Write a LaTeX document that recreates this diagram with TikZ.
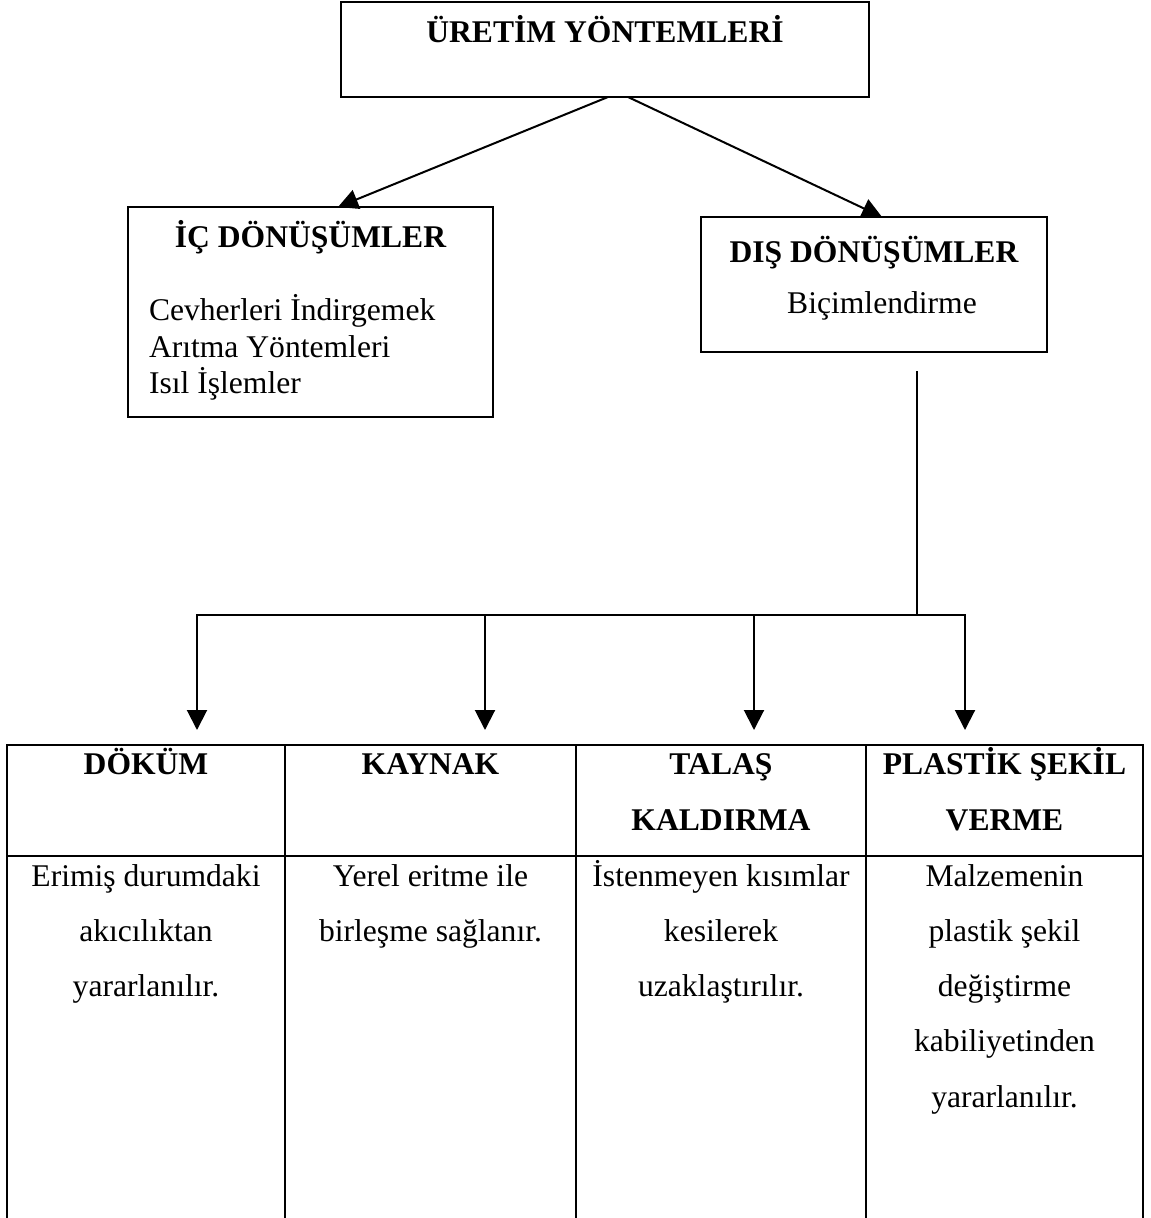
\documentclass[tikz,border=0pt]{standalone}
\usepackage{fontspec}
\setmainfont{Liberation Serif}
\usetikzlibrary{arrows.meta,calc}
\begin{document}
\begin{tikzpicture}[x=1pt,y=-1pt,
  every node/.style={font=\fontsize{31.6}{38}\selectfont, inner sep=0pt, outer sep=0pt},
  frame/.style={draw, rectangle, line width=2pt},
  heading/.style={font=\fontsize{31.6}{38}\selectfont\bfseries, anchor=base},
  textline/.style={anchor=base},
  link/.style={line width=2pt},
  arr/.style={line width=2pt, -{Triangle[length=20pt,width=20pt]}},
]
\useasboundingbox (0,0) rectangle (1151,1218);

% top box
\node[frame, minimum width=528pt, minimum height=95pt] (top) at (605,49.5) {};
\node[heading] (topT) at (605,42) {ÜRETİM YÖNTEMLERİ};

% inner transformations
\node[frame, minimum width=365pt, minimum height=210pt] (ic) at (310.5,312) {};
\node[heading] (icT) at (310.5,247) {İÇ DÖNÜŞÜMLER};
\node[textline, anchor=base west] (ic1) at (149,320) {Cevherleri İndirgemek};
\node[textline, anchor=base west] (ic2) at (149,357) {Arıtma Yöntemleri};
\node[textline, anchor=base west] (ic3) at (149,393) {Isıl İşlemler};

% outer transformations
\node[frame, minimum width=346pt, minimum height=135pt] (dis) at (874,284.5) {};
\node[heading] (disT) at (874,262) {DIŞ DÖNÜŞÜMLER};
\node[textline] (disB) at (882,313) {Biçimlendirme};

\draw[arr] ($(top.south)+(3,0)$) -- ($(ic.north)+(27.5,0)$);
\draw[arr] ($(top.south)+(23,0)$) -- ($(dis.north)+(8,0)$);

% table header cells
\node[frame, minimum width=278pt, minimum height=111pt] (h1) at (146,800.5) {};
\node[frame, minimum width=291pt, minimum height=111pt] (h2) at (430.5,800.5) {};
\node[frame, minimum width=290pt, minimum height=111pt] (h3) at (721,800.5) {};
\node[frame, minimum width=277pt, minimum height=111pt] (h4) at (1004.5,800.5) {};

\node[heading] (h1a) at (146,774) {DÖKÜM};
\node[heading] (h2a) at (430.5,774) {KAYNAK};
\node[heading] (h3a) at (721,774) {TALAŞ};
\node[heading] (h3b) at (721,830) {KALDIRMA};
\node[heading] (h4a) at (1004.5,774) {PLASTİK ŞEKİL};
\node[heading] (h4b) at (1004.5,830) {VERME};

% table body columns, open at the bottom
\coordinate (bottom) at (0,1218);
\draw[link] (h1.south west) -- (h1.south west |- bottom);
\draw[link] (h2.south west) -- (h2.south west |- bottom);
\draw[link] (h3.south west) -- (h3.south west |- bottom);
\draw[link] (h4.south west) -- (h4.south west |- bottom);
\draw[link] (h4.south east) -- (h4.south east |- bottom);

\foreach \t [count=\i] in {Erimiş durumdaki,akıcılıktan,yararlanılır.}
  \node[textline] (c1l\i) at (146,{830.75+55.25*\i}) {\t};
\foreach \t [count=\i] in {Yerel eritme ile,birleşme sağlanır.}
  \node[textline] (c2l\i) at (430.5,{830.75+55.25*\i}) {\t};
\foreach \t [count=\i] in {İstenmeyen kısımlar,kesilerek,uzaklaştırılır.}
  \node[textline] (c3l\i) at (721,{830.75+55.25*\i}) {\t};
\foreach \t [count=\i] in {Malzemenin,plastik şekil,değiştirme,kabiliyetinden,yararlanılır.}
  \node[textline] (c4l\i) at (1004.5,{830.75+55.25*\i}) {\t};

% distribution lines to the four methods
\coordinate (stemTop) at ($(dis.south)+(43,19)$);
\coordinate (j) at (917,615);
\coordinate (a1) at ($(h1.north)+(51,-15)$);
\coordinate (a2) at ($(h2.north)+(54.5,-15)$);
\coordinate (a3) at ($(h3.north)+(33,-15)$);
\coordinate (a4) at ($(h4.north)+(-39.5,-15)$);

\draw[link] (stemTop) -- (j);
\draw[arr] (j) -| (a1);
\draw[arr] (j) -| (a4);
\draw[arr] (a2 |- j) -- (a2);
\draw[arr] (a3 |- j) -- (a3);
\end{tikzpicture}
\end{document}
